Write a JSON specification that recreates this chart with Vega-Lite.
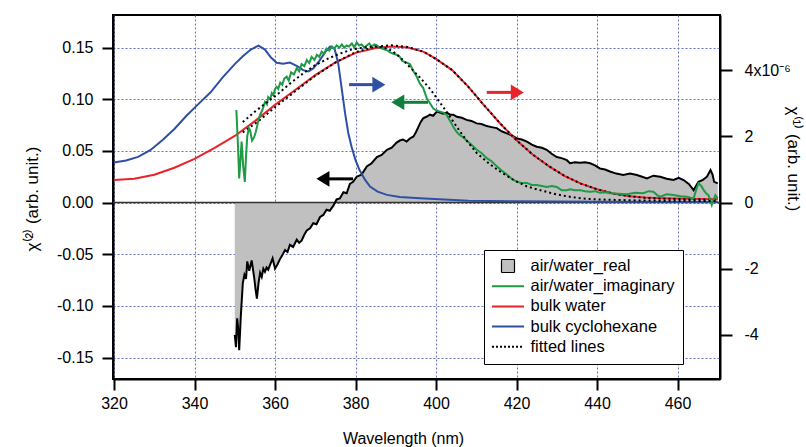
{
  "$schema": "https://vega.github.io/schema/vega-lite/v6.json",
  "width": 607,
  "height": 364,
  "autosize": {"type": "none"},
  "padding": {"left": 113, "top": 15, "right": 86, "bottom": 68},
  "background": "white",
  "config": {
    "font": "Liberation Sans",
    "view": {"stroke": "black", "strokeWidth": 2},
    "axis": {
      "labelFont": "Liberation Sans", "labelFontSize": 16, "labelColor": "black",
      "titleFont": "Liberation Sans", "titleFontWeight": "normal", "titleColor": "black", "titleFontSize": 16,
      "domainColor": "black", "domainWidth": 2, "tickColor": "black", "tickWidth": 2, "tickSize": 11,
      "gridColor": "#6670c0", "gridDash": [2, 2], "gridWidth": 1, "gridOpacity": 1
    }
  },
  "datasets": {
    "real": [
      {"wl":350.0,"v":-0.128},{"wl":350.3,"v":-0.140},{"wl":350.6,"v":-0.112},{"wl":350.9,"v":-0.124},{"wl":351.1,"v":-0.143},
      {"wl":351.5,"v":-0.110},{"wl":352.0,"v":-0.078},{"wl":352.4,"v":-0.070},{"wl":352.8,"v":-0.074},{"wl":353.1,"v":-0.057},
      {"wl":353.6,"v":-0.066},{"wl":354.2,"v":-0.056},{"wl":354.8,"v":-0.072},{"wl":355.2,"v":-0.085},{"wl":355.5,"v":-0.093},
      {"wl":355.9,"v":-0.078},{"wl":356.3,"v":-0.068},{"wl":356.7,"v":-0.072},{"wl":357.1,"v":-0.064},{"wl":357.5,"v":-0.067},
      {"wl":357.9,"v":-0.063},{"wl":358.3,"v":-0.065},{"wl":358.8,"v":-0.060},{"wl":359.4,"v":-0.054},{"wl":360.0,"v":-0.064},
      {"wl":360.6,"v":-0.060},{"wl":361.2,"v":-0.055},{"wl":361.8,"v":-0.051},{"wl":362.5,"v":-0.046},{"wl":363.1,"v":-0.048},
      {"wl":363.7,"v":-0.041},{"wl":364.5,"v":-0.043},{"wl":365.4,"v":-0.036},{"wl":366.0,"v":-0.039},{"wl":366.6,"v":-0.037},
      {"wl":367.3,"v":-0.031},{"wl":367.9,"v":-0.027},{"wl":368.7,"v":-0.025},{"wl":369.5,"v":-0.020},{"wl":370.3,"v":-0.021},
      {"wl":371.2,"v":-0.014},{"wl":372.0,"v":-0.012},{"wl":372.8,"v":-0.007},{"wl":373.6,"v":-0.008},{"wl":374.5,"v":-0.003},
      {"wl":375.3,"v":0.003},{"wl":376.1,"v":0.004},{"wl":377.0,"v":0.010},{"wl":377.8,"v":0.009},{"wl":378.6,"v":0.018},
      {"wl":379.4,"v":0.020},{"wl":380.3,"v":0.025},{"wl":381.5,"v":0.027},{"wl":382.8,"v":0.035},{"wl":384.0,"v":0.038},
      {"wl":385.3,"v":0.044},{"wl":386.5,"v":0.046},{"wl":387.8,"v":0.051},{"wl":389.0,"v":0.053},{"wl":390.2,"v":0.058},
      {"wl":391.0,"v":0.060},{"wl":391.8,"v":0.061},{"wl":392.7,"v":0.059},{"wl":393.5,"v":0.062},{"wl":394.4,"v":0.064},
      {"wl":395.0,"v":0.068},{"wl":395.6,"v":0.073},{"wl":396.2,"v":0.078},{"wl":396.8,"v":0.0815},{"wl":397.6,"v":0.083},
      {"wl":398.5,"v":0.085},{"wl":399.3,"v":0.084},{"wl":400.2,"v":0.088},{"wl":401.0,"v":0.087},{"wl":401.8,"v":0.086},
      {"wl":402.6,"v":0.087},{"wl":403.5,"v":0.085},{"wl":404.3,"v":0.085},{"wl":405.2,"v":0.083},{"wl":406.4,"v":0.082},
      {"wl":407.6,"v":0.080},{"wl":408.8,"v":0.079},{"wl":410.1,"v":0.0766},{"wl":411.3,"v":0.076},{"wl":412.6,"v":0.074},
      {"wl":413.8,"v":0.073},{"wl":415.1,"v":0.072},{"wl":416.3,"v":0.069},{"wl":417.6,"v":0.067},{"wl":418.8,"v":0.065},
      {"wl":420.1,"v":0.062},{"wl":421.3,"v":0.061},{"wl":422.6,"v":0.059},{"wl":423.8,"v":0.056},{"wl":425.0,"v":0.054},
      {"wl":426.3,"v":0.053},{"wl":427.5,"v":0.051},{"wl":428.8,"v":0.047},{"wl":430.0,"v":0.044},{"wl":431.2,"v":0.043},
      {"wl":432.5,"v":0.041},{"wl":433.3,"v":0.038},{"wl":434.5,"v":0.039},{"wl":435.8,"v":0.0385},{"wl":437.0,"v":0.039},
      {"wl":438.3,"v":0.038},{"wl":439.5,"v":0.036},{"wl":440.7,"v":0.033},{"wl":442.0,"v":0.032},{"wl":443.2,"v":0.030},
      {"wl":444.8,"v":0.028},{"wl":446.5,"v":0.0266},{"wl":448.2,"v":0.028},{"wl":449.9,"v":0.0266},{"wl":451.2,"v":0.025},
      {"wl":452.4,"v":0.0234},{"wl":454.0,"v":0.026},{"wl":455.7,"v":0.025},{"wl":457.3,"v":0.023},{"wl":459.0,"v":0.0218},
      {"wl":460.3,"v":0.024},{"wl":461.5,"v":0.0218},{"wl":462.8,"v":0.018},{"wl":464.0,"v":0.012},{"wl":465.2,"v":0.020},
      {"wl":466.3,"v":0.022},{"wl":467.3,"v":0.025},{"wl":468.2,"v":0.0315},{"wl":468.7,"v":0.027},{"wl":469.1,"v":0.020},
      {"wl":470.0,"v":0.0186}
    ],
    "imag": [
      {"wl":350.4,"v":0.0895},{"wl":350.8,"v":0.055},{"wl":351.1,"v":0.0234},{"wl":351.4,"v":0.040},{"wl":351.7,"v":0.059},
      {"wl":352.1,"v":0.035},{"wl":352.5,"v":0.020},{"wl":352.8,"v":0.045},{"wl":353.1,"v":0.064},{"wl":353.5,"v":0.072},
      {"wl":353.8,"v":0.070},{"wl":354.3,"v":0.060},{"wl":354.8,"v":0.063},{"wl":355.2,"v":0.068},{"wl":355.5,"v":0.073},
      {"wl":355.9,"v":0.080},{"wl":356.3,"v":0.085},{"wl":356.9,"v":0.090},{"wl":357.5,"v":0.0975},{"wl":358.0,"v":0.095},
      {"wl":358.3,"v":0.102},{"wl":358.8,"v":0.100},{"wl":359.2,"v":0.106},{"wl":359.6,"v":0.104},{"wl":360.0,"v":0.110},
      {"wl":360.4,"v":0.112},{"wl":360.8,"v":0.110},{"wl":361.3,"v":0.116},{"wl":361.8,"v":0.114},{"wl":362.3,"v":0.120},
      {"wl":362.9,"v":0.122},{"wl":363.4,"v":0.118},{"wl":364.0,"v":0.126},{"wl":364.7,"v":0.124},{"wl":365.4,"v":0.130},
      {"wl":366.0,"v":0.127},{"wl":366.6,"v":0.134},{"wl":367.3,"v":0.132},{"wl":367.9,"v":0.138},{"wl":368.5,"v":0.135},
      {"wl":369.1,"v":0.141},{"wl":369.8,"v":0.138},{"wl":370.4,"v":0.143},{"wl":371.0,"v":0.141},{"wl":371.6,"v":0.146},
      {"wl":372.2,"v":0.144},{"wl":372.8,"v":0.149},{"wl":373.5,"v":0.147},{"wl":374.1,"v":0.151},{"wl":374.7,"v":0.149},
      {"wl":375.3,"v":0.152},{"wl":376.0,"v":0.150},{"wl":376.6,"v":0.153},{"wl":377.2,"v":0.150},{"wl":377.8,"v":0.152},
      {"wl":378.4,"v":0.151},{"wl":379.1,"v":0.154},{"wl":379.7,"v":0.150},{"wl":380.3,"v":0.155},{"wl":380.9,"v":0.152},
      {"wl":381.5,"v":0.153},{"wl":382.2,"v":0.150},{"wl":382.8,"v":0.152},{"wl":383.4,"v":0.154},{"wl":384.0,"v":0.151},
      {"wl":384.7,"v":0.153},{"wl":385.3,"v":0.152},{"wl":386.0,"v":0.150},{"wl":386.6,"v":0.149},{"wl":387.3,"v":0.148},
      {"wl":388.0,"v":0.147},{"wl":388.7,"v":0.145},{"wl":389.4,"v":0.144},{"wl":390.2,"v":0.143},{"wl":391.0,"v":0.141},
      {"wl":391.6,"v":0.137},{"wl":392.3,"v":0.136},{"wl":393.0,"v":0.135},{"wl":393.5,"v":0.134},{"wl":394.4,"v":0.127},
      {"wl":395.2,"v":0.122},{"wl":396.0,"v":0.115},{"wl":396.8,"v":0.111},{"wl":397.7,"v":0.101},{"wl":398.5,"v":0.096},
      {"wl":399.3,"v":0.091},{"wl":400.2,"v":0.089},{"wl":401.0,"v":0.088},{"wl":401.8,"v":0.087},{"wl":402.6,"v":0.085},
      {"wl":403.5,"v":0.079},{"wl":404.3,"v":0.073},{"wl":405.2,"v":0.068},{"wl":406.0,"v":0.065},{"wl":406.8,"v":0.063},
      {"wl":407.6,"v":0.060},{"wl":408.8,"v":0.056},{"wl":410.1,"v":0.051},{"wl":411.3,"v":0.048},{"wl":412.6,"v":0.043},
      {"wl":413.8,"v":0.040},{"wl":415.1,"v":0.035},{"wl":416.3,"v":0.031},{"wl":417.6,"v":0.027},{"wl":418.8,"v":0.023},
      {"wl":420.1,"v":0.020},{"wl":421.3,"v":0.019},{"wl":422.6,"v":0.019},{"wl":423.8,"v":0.017},{"wl":425.0,"v":0.017},
      {"wl":426.3,"v":0.016},{"wl":427.5,"v":0.015},{"wl":428.8,"v":0.016},{"wl":430.0,"v":0.015},{"wl":431.2,"v":0.012},
      {"wl":432.5,"v":0.012},{"wl":433.3,"v":0.0128},{"wl":434.5,"v":0.012},{"wl":435.8,"v":0.012},{"wl":437.0,"v":0.011},
      {"wl":438.3,"v":0.0105},{"wl":439.5,"v":0.011},{"wl":440.7,"v":0.0095},{"wl":442.0,"v":0.010},{"wl":443.2,"v":0.009},
      {"wl":445.3,"v":0.0085},{"wl":447.4,"v":0.008},{"wl":449.5,"v":0.0095},{"wl":451.5,"v":0.009},{"wl":452.8,"v":0.011},
      {"wl":454.0,"v":0.0105},{"wl":455.0,"v":0.007},{"wl":455.7,"v":0.0056},{"wl":457.3,"v":0.008},{"wl":459.0,"v":0.0073},
      {"wl":460.7,"v":0.006},{"wl":462.3,"v":0.0056},{"wl":464.0,"v":0.004},{"wl":464.6,"v":0.012},{"wl":465.2,"v":0.0186},
      {"wl":465.9,"v":0.016},{"wl":466.5,"v":0.012},{"wl":467.1,"v":0.009},{"wl":467.7,"v":0.007},{"wl":468.5,"v":-0.0024},
      {"wl":469.0,"v":0.003},{"wl":469.4,"v":0.007},{"wl":470.0,"v":0.004}
    ],
    "imagfit": [
      {"wl":352.0,"v":0.078},{"wl":355.0,"v":0.088},{"wl":358.0,"v":0.097},{"wl":361.0,"v":0.106},{"wl":364.0,"v":0.116},
      {"wl":367.0,"v":0.125},{"wl":370.0,"v":0.133},{"wl":373.0,"v":0.139},{"wl":376.0,"v":0.144},{"wl":379.0,"v":0.148},
      {"wl":382.0,"v":0.150},{"wl":385.0,"v":0.151},{"wl":387.0,"v":0.150},{"wl":389.0,"v":0.147},{"wl":391.0,"v":0.141},
      {"wl":393.5,"v":0.131},{"wl":396.0,"v":0.121},{"wl":398.5,"v":0.110},{"wl":400.2,"v":0.101},{"wl":402.6,"v":0.088},
      {"wl":405.2,"v":0.073},{"wl":407.6,"v":0.060},{"wl":410.1,"v":0.048},{"wl":413.4,"v":0.037},{"wl":415.9,"v":0.030},
      {"wl":419.2,"v":0.022},{"wl":422.6,"v":0.0155},{"wl":425.8,"v":0.012},{"wl":429.2,"v":0.0085},{"wl":432.5,"v":0.006},
      {"wl":436.0,"v":0.004},{"wl":440.0,"v":0.003},{"wl":450.0,"v":0.002},{"wl":460.0,"v":0.0017},{"wl":470.0,"v":0.0015}
    ],
    "water": [
      {"wl":320,"v":0.68},{"wl":325,"v":0.72},{"wl":330,"v":0.84},{"wl":335,"v":1.05},{"wl":340,"v":1.32},
      {"wl":345,"v":1.65},{"wl":350,"v":2.01},{"wl":355,"v":2.46},{"wl":360,"v":2.95},{"wl":365,"v":3.40},
      {"wl":370,"v":3.85},{"wl":375,"v":4.23},{"wl":380,"v":4.52},{"wl":385,"v":4.67},{"wl":389,"v":4.71},
      {"wl":393,"v":4.68},{"wl":397,"v":4.55},{"wl":400,"v":4.34},{"wl":404,"v":4.00},{"wl":408,"v":3.50},
      {"wl":412,"v":2.93},{"wl":416,"v":2.38},{"wl":420,"v":1.88},{"wl":424,"v":1.45},{"wl":428,"v":1.10},
      {"wl":432,"v":0.80},{"wl":436,"v":0.57},{"wl":440,"v":0.40},{"wl":444,"v":0.27},{"wl":448,"v":0.19},
      {"wl":452,"v":0.15},{"wl":456,"v":0.13},{"wl":462,"v":0.11},{"wl":470,"v":0.10}
    ],
    "waterfit": [
      {"wl":352,"v":2.12},{"wl":356,"v":2.47},{"wl":360,"v":2.88},{"wl":365,"v":3.36},{"wl":370,"v":3.83},
      {"wl":375,"v":4.23},{"wl":380,"v":4.54},{"wl":385,"v":4.71},{"wl":389,"v":4.75},{"wl":393,"v":4.70},
      {"wl":397,"v":4.55},{"wl":400,"v":4.34},{"wl":404,"v":4.00},{"wl":408,"v":3.50},{"wl":412,"v":2.93},
      {"wl":416,"v":2.38},{"wl":420,"v":1.88},{"wl":424,"v":1.45},{"wl":428,"v":1.10},{"wl":432,"v":0.80},
      {"wl":436,"v":0.57},{"wl":440,"v":0.40},{"wl":444,"v":0.27},{"wl":448,"v":0.19},{"wl":452,"v":0.14},
      {"wl":456,"v":0.12},{"wl":462,"v":0.10},{"wl":470,"v":0.09}
    ],
    "cyclo": [
      {"wl":320,"v":1.21},{"wl":323,"v":1.27},{"wl":326,"v":1.38},{"wl":329,"v":1.58},{"wl":332,"v":1.88},
      {"wl":335,"v":2.22},{"wl":338,"v":2.62},{"wl":341,"v":2.98},{"wl":344,"v":3.33},{"wl":347,"v":3.78},
      {"wl":350,"v":4.18},{"wl":352,"v":4.42},{"wl":354,"v":4.62},{"wl":355.9,"v":4.74},{"wl":357.5,"v":4.62},
      {"wl":359,"v":4.38},{"wl":360.4,"v":4.22},{"wl":362,"v":4.19},{"wl":363.7,"v":4.23},{"wl":365.5,"v":4.12},
      {"wl":367,"v":4.00},{"wl":368.3,"v":3.96},{"wl":369.5,"v":4.05},{"wl":371,"v":4.28},{"wl":372.5,"v":4.55},
      {"wl":373.7,"v":4.71},{"wl":374.8,"v":4.64},{"wl":375.7,"v":4.21},{"wl":376.5,"v":3.50},{"wl":377.4,"v":2.70},
      {"wl":378.2,"v":2.10},{"wl":379,"v":1.69},{"wl":380,"v":1.28},{"wl":381,"v":0.98},{"wl":382.3,"v":0.70},
      {"wl":383.6,"v":0.48},{"wl":385.5,"v":0.33},{"wl":387.8,"v":0.23},{"wl":391,"v":0.17},{"wl":396,"v":0.13},
      {"wl":402,"v":0.09},{"wl":408,"v":0.05},{"wl":420,"v":0.035},{"wl":440,"v":0.025},{"wl":470,"v":0.015}
    ],
    "arrows": [
      {"arrow":"blue","x1":378.4,"x2":384.8,"xh":385.8,"y":0.1141,"dir":"right"},
      {"arrow":"green","x1":398.0,"x2":391.6,"xh":390.5,"y":0.097,"dir":"left"},
      {"arrow":"black","x1":379.4,"x2":373.0,"xh":371.9,"y":0.0229,"dir":"left"},
      {"arrow":"red","x1":412.6,"x2":419.2,"xh":420.2,"y":0.1066,"dir":"right"}
    ]
  },
  "layer": [
    {
      "data": {"name": "real"},
      "layer": [
        {
          "mark": {"type": "area", "color": "#c0c0c0", "opacity": 1},
          "encoding": {
            "x": {"field": "wl", "type": "quantitative",
              "scale": {"domain": [319.75, 470.55], "nice": false, "zero": false},
              "axis": {"values": [320, 340, 360, 380, 400, 420, 440, 460], "grid": true, "labelPadding": 5,
                "title": "Wavelength (nm)", "titleX": 290, "titleY": 64, "titleBaseline": "alphabetic", "titleAnchor": "middle", "titleAlign": "center"}},
            "y": {"field": "v", "type": "quantitative",
              "scale": {"domain": [-0.1708, 0.1815], "nice": false, "zero": false},
              "axis": {"orient": "left", "values": [-0.15, -0.1, -0.05, 0, 0.05, 0.1, 0.15], "grid": true,
                "labelExpr": "replace(format(datum.value, '.2f'), '−', '-')",
                "labelPadding": 9, "title": "χ⁽²⁾ (arb. unit.)", "titleFontSize": 17,
                "titleX": -76, "titleY": 183.5, "titleAngle": 270, "titleBaseline": "alphabetic", "titleAlign": "center"}}
          }
        },
        {
          "data": {"values": [{"v": 0}]},
          "mark": {"type": "rule", "color": "#333333", "strokeWidth": 1.5},
          "encoding": {"y": {"field": "v", "type": "quantitative"}}
        },
        {
          "mark": {"type": "line", "strokeWidth": 2},
          "encoding": {
            "x": {"field": "wl", "type": "quantitative"},
            "y": {"field": "v", "type": "quantitative"},
            "color": {"datum": "air/water_real", "type": "nominal",
              "scale": {"domain": ["air/water_real", "air/water_imaginary", "bulk water", "bulk cyclohexane", "fitted lines"],
                        "range": ["#000000", "#1f9a45", "#e8232b", "#2e4fa4", "#000000"]},
              "legend": {"orient": "none", "legendX": 371, "legendY": 235, "title": null,
                "fillColor": "white", "strokeColor": "black", "padding": 8,
                "labelFont": "Liberation Sans", "labelFontSize": 16.5, "labelColor": "black", "labelOffset": 22,
                "rowPadding": 3.2, "symbolSize": 1024, "symbolStrokeWidth": 2, "symbolType": "stroke", "clipHeight": 16,
                "encode": {
                  "symbols": {
                    "update": {
                      "x": {"value": 16},
                      "shape": {"signal": "datum.value === 'air/water_real' ? 'square' : 'stroke'"},
                      "size": {"signal": "datum.value === 'air/water_real' ? 169 : 1024"},
                      "fill": {"signal": "datum.value === 'air/water_real' ? '#c0c0c0' : 'transparent'"},
                      "strokeDash": {"signal": "datum.value === 'fitted lines' ? [2, 2] : [1, 0]"},
                      "strokeWidth": {"signal": "datum.value === 'air/water_real' ? 1.2 : 2"}
                    }
                  }
                }}}
          }
        }
      ]
    },
    {
      "layer": [
        {
          "data": {"name": "water"},
          "mark": {"type": "line", "strokeWidth": 2},
          "encoding": {
            "x": {"field": "wl", "type": "quantitative"},
            "y": {"field": "v", "type": "quantitative",
              "scale": {"domain": [-5.332, 5.665], "nice": false, "zero": false},
              "axis": {"orient": "right", "values": [-4, -2, 0, 2, 4], "grid": false, "tickSize": 12, "labelPadding": 12,
                "labelExpr": "datum.value == 4 ? '4x10⁻⁶' : replace(datum.label, '−', '-')",
                "title": "χ⁽¹⁾ (arb. unit.)", "titleFontSize": 17,
                "titleX": 67, "titleY": 143.5, "titleAngle": 90, "titleBaseline": "alphabetic", "titleAlign": "center"}},
            "color": {"datum": "bulk water", "type": "nominal"}
          }
        },
        {
          "data": {"name": "cyclo"},
          "mark": {"type": "line", "strokeWidth": 2},
          "encoding": {
            "x": {"field": "wl", "type": "quantitative"},
            "y": {"field": "v", "type": "quantitative"},
            "color": {"datum": "bulk cyclohexane", "type": "nominal"}
          }
        },
        {
          "data": {"name": "waterfit"},
          "mark": {"type": "line", "strokeWidth": 2, "strokeDash": [2, 3]},
          "encoding": {
            "x": {"field": "wl", "type": "quantitative"},
            "y": {"field": "v", "type": "quantitative"},
            "color": {"datum": "fitted lines", "type": "nominal"}
          }
        }
      ]
    },
    {
      "layer": [
        {
          "data": {"name": "imag"},
          "mark": {"type": "line", "strokeWidth": 2},
          "encoding": {
            "x": {"field": "wl", "type": "quantitative"},
            "y": {"field": "v", "type": "quantitative",
              "scale": {"domain": [-0.1708, 0.1815], "nice": false, "zero": false}, "axis": null},
            "color": {"datum": "air/water_imaginary", "type": "nominal"}
          }
        },
        {
          "data": {"name": "imagfit"},
          "mark": {"type": "line", "strokeWidth": 2, "strokeDash": [2, 3]},
          "encoding": {
            "x": {"field": "wl", "type": "quantitative"},
            "y": {"field": "v", "type": "quantitative"},
            "color": {"datum": "fitted lines", "type": "nominal"}
          }
        },
        {
          "data": {"name": "arrows"},
          "mark": {"type": "rule", "strokeWidth": 3},
          "encoding": {
            "x": {"field": "x1", "type": "quantitative"},
            "x2": {"field": "x2"},
            "y": {"field": "y", "type": "quantitative"},
            "stroke": {"field": "arrow", "type": "nominal",
              "scale": {"domain": ["blue", "green", "black", "red"], "range": ["#2e4fa4", "#0f7f3d", "#000000", "#e8232b"]},
              "legend": null}
          }
        },
        {
          "data": {"name": "arrows"},
          "mark": {"type": "point", "filled": true, "opacity": 1, "strokeWidth": 0, "size": 169},
          "encoding": {
            "x": {"field": "xh", "type": "quantitative"},
            "y": {"field": "y", "type": "quantitative"},
            "fill": {"field": "arrow", "type": "nominal",
              "scale": {"domain": ["blue", "green", "black", "red"], "range": ["#2e4fa4", "#0f7f3d", "#000000", "#e8232b"]},
              "legend": null},
            "shape": {"field": "dir", "type": "nominal",
              "scale": {"domain": ["right", "left"], "range": ["M-1,-1.2L1,0L-1,1.2Z", "M1,-1.2L-1,0L1,1.2Z"]},
              "legend": null}
          }
        }
      ]
    }
  ],
  "resolve": {"scale": {"y": "independent"}}
}
